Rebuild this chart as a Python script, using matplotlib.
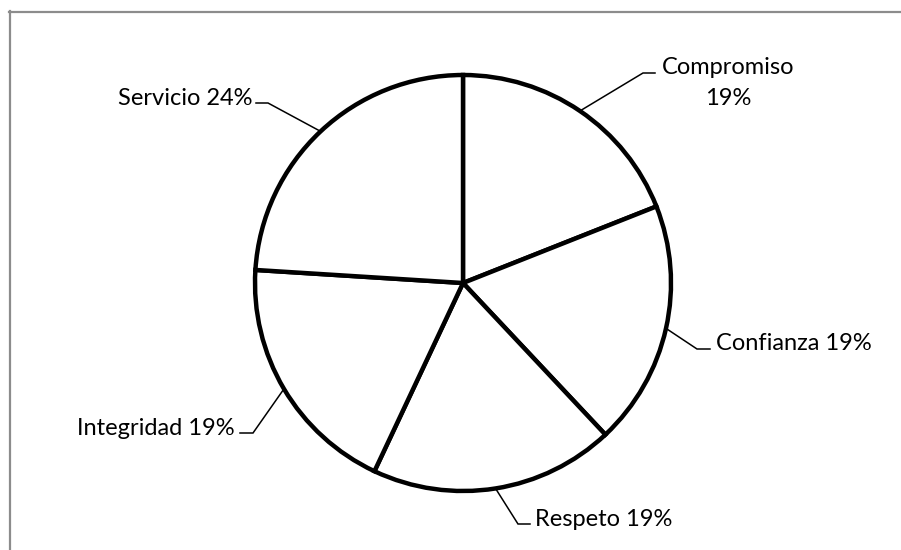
import numpy as np
import matplotlib.pyplot as plt
from matplotlib.lines import Line2D

plt.rcParams['font.family'] = ['Lato', 'DejaVu Sans']

# Values
categories = ['Compromiso', 'Confianza', 'Respeto', 'Integridad', 'Servicio']
values = [19, 19, 19, 19, 24]

# Pixel-space layout (y axis pointing up)
W, H = 901, 550
center = (463, 267)
radius = 208

# leader elbow, end of horizontal stub, text anchor, alignment
leaders = {
    'Compromiso': ((643, 477), (655, 477), (728, 445), 'center'),
    'Confianza': ((697, 201), (710, 201), (716, 200), 'left'),
    'Respeto': ((518, 26), (530, 26), (535, 24), 'left'),
    'Integridad': ((253, 117), (240, 117), (235, 115), 'right'),
    'Servicio': ((268, 447), (256, 447), (252, 445), 'right'),
}

fig = plt.figure(figsize=(W / 100, H / 100), dpi=100)
ax = fig.add_axes([0, 0, 1, 1])
ax.set_xlim(0, W)
ax.set_ylim(0, H)
ax.set_aspect('equal')
ax.axis('off')

wedges, _ = ax.pie(values, center=center, radius=radius, startangle=90,
                   counterclock=False, colors=['white'] * len(values),
                   wedgeprops=dict(edgecolor='black', linewidth=3.2))
ax.set_xlim(0, W)
ax.set_ylim(0, H)

for w, name, v in zip(wedges, categories, values):
    mid = np.deg2rad((w.theta1 + w.theta2) / 2)
    x0 = center[0] + radius * np.cos(mid)
    y0 = center[1] + radius * np.sin(mid)
    elbow, stub, tpos, ha = leaders[name]
    ax.plot([x0, elbow[0], stub[0]], [y0, elbow[1], stub[1]],
            color='black', lw=1.1, solid_joinstyle='miter')
    if name == 'Compromiso':
        label = f'{name}\n{v}%'
    else:
        label = f'{name} {v}%'
    ax.text(tpos[0], tpos[1], label, ha=ha, va='baseline',
            multialignment='center', fontsize=17, color='black',
            linespacing=1.6)

# chart area border
fig.add_artist(Line2D([9.5 / W, 9.5 / W], [0, 1 - 11 / H],
                      transform=fig.transFigure, color='#8c8c8c', lw=1.6))
fig.add_artist(Line2D([9 / W, 1], [1 - 11.5 / H, 1 - 11.5 / H],
                      transform=fig.transFigure, color='#8c8c8c', lw=1.6))

fig.savefig('out.png', dpi=100)
